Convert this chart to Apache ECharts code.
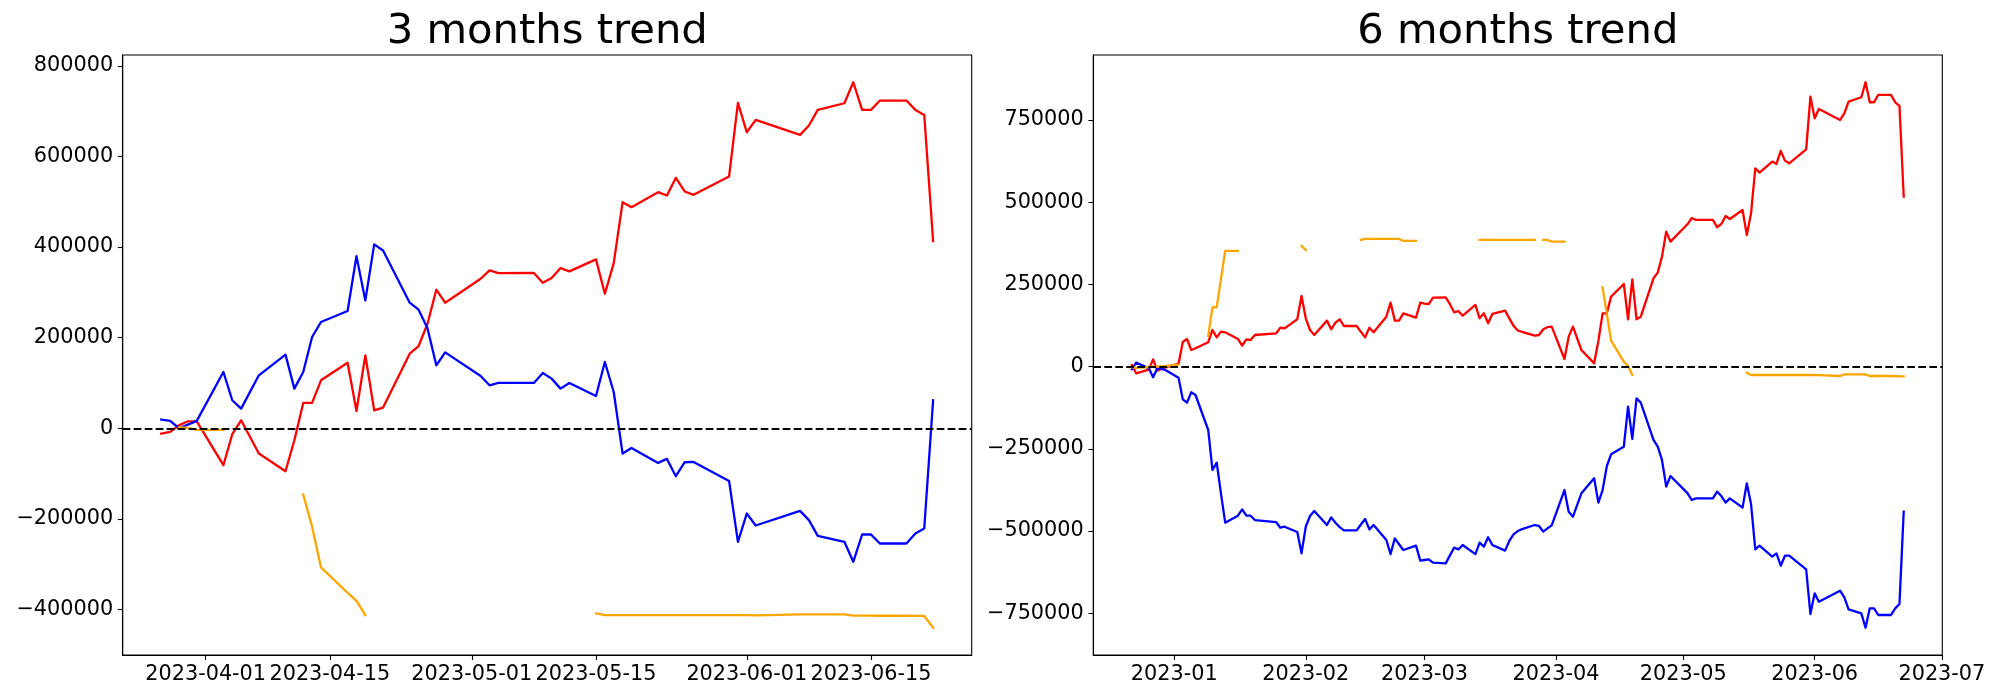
<!DOCTYPE html>
<html>
<head>
<meta charset="utf-8">
<script src="https://cdn.jsdelivr.net/npm/echarts@6/dist/echarts.min.js"></script>
<style>
html,body{margin:0;padding:0;background:#fff;}
#chart{width:2000px;height:700px;}
</style>
</head>
<body>
<div id="chart"></div>
<script>
const titles = ['3 months trend', '6 months trend'];

// ---------- 3 months panel ----------
const datesL = ['2023-03-27','2023-03-28','2023-03-29','2023-03-30','2023-03-31','2023-04-03','2023-04-04','2023-04-05','2023-04-07','2023-04-10','2023-04-11','2023-04-12','2023-04-13','2023-04-14','2023-04-17','2023-04-18','2023-04-19','2023-04-20','2023-04-21','2023-04-24','2023-04-25','2023-04-26','2023-04-27','2023-04-28','2023-05-02','2023-05-03','2023-05-04','2023-05-08','2023-05-09','2023-05-10','2023-05-11','2023-05-12','2023-05-15','2023-05-16','2023-05-17','2023-05-18','2023-05-19','2023-05-22','2023-05-23','2023-05-24','2023-05-25','2023-05-26','2023-05-30','2023-05-31','2023-06-01','2023-06-02','2023-06-07','2023-06-08','2023-06-09','2023-06-12','2023-06-13','2023-06-14','2023-06-15','2023-06-16','2023-06-19','2023-06-20','2023-06-21','2023-06-22'];
const redL = [-11800,-8100,6600,15400,15400,-81600,-13200,17600,-55900,-94800,-26500,55900,55900,105900,144800,38200,161000,39700,45600,164700,181600,230300,305900,277200,330100,348500,342600,343000,321300,331600,353700,346300,372800,297000,364700,499200,488200,521300,514000,552900,522800,515400,555900,718300,653600,680900,647800,668400,702900,717600,763900,702900,702900,723500,723500,702900,691900,413200];
const blueL = [19100,16200,0,8000,16200,124300,61800,43400,116900,162500,87500,124300,201500,234600,258800,380100,282300,405900,392600,277200,261800,221300,139000,167600,115400,94900,100000,100000,122100,109600,87500,100000,71300,146300,80100,-55900,-43400,-76500,-67700,-105900,-75000,-74300,-116200,-250700,-188200,-214700,-182400,-202900,-237500,-250700,-294800,-234600,-234600,-254400,-254400,-232300,-221300,61800];
const orangeL = [null,null,2000,1000,-3500,-3500,null,null,null,null,null,-146300,-217600,-307300,-363200,-380900,-412500,null,null,null,null,null,null,null,null,null,null,null,null,null,null,null,-408800,-412500,-412500,-412500,-412500,-412500,-412500,-412500,-412500,-412500,-412500,-412500,-412500,-413200,-411000,-411000,-411000,-411000,-413700,-413700,-413700,-414000,-414000,-414400,-414400,-440400];
const xTicksL = ['2023-04-01','2023-04-15','2023-05-01','2023-05-15','2023-06-01','2023-06-15'];
const yTicksL = [-400000,-200000,0,200000,400000,600000,800000];

// ---------- 6 months panel ----------
const datesR = ['2022-12-22','2022-12-23','2022-12-26','2022-12-27','2022-12-28','2022-12-29','2022-12-30','2023-01-02','2023-01-03','2023-01-04','2023-01-05','2023-01-06','2023-01-09','2023-01-10','2023-01-11','2023-01-12','2023-01-13','2023-01-16','2023-01-17','2023-01-18','2023-01-19','2023-01-20','2023-01-25','2023-01-26','2023-01-27','2023-01-30','2023-01-31','2023-02-01','2023-02-02','2023-02-03','2023-02-06','2023-02-07','2023-02-08','2023-02-09','2023-02-10','2023-02-13','2023-02-14','2023-02-15','2023-02-16','2023-02-17','2023-02-20','2023-02-21','2023-02-22','2023-02-23','2023-02-24','2023-02-27','2023-02-28','2023-03-01','2023-03-02','2023-03-03','2023-03-06','2023-03-07','2023-03-08','2023-03-09','2023-03-10','2023-03-13','2023-03-14','2023-03-15','2023-03-16','2023-03-17','2023-03-20','2023-03-21','2023-03-22','2023-03-23','2023-03-24','2023-03-27','2023-03-28','2023-03-29','2023-03-30','2023-03-31','2023-04-03','2023-04-04','2023-04-05','2023-04-07','2023-04-10','2023-04-11','2023-04-12','2023-04-13','2023-04-14','2023-04-17','2023-04-18','2023-04-19','2023-04-20','2023-04-21','2023-04-24','2023-04-25','2023-04-26','2023-04-27','2023-04-28','2023-05-02','2023-05-03','2023-05-04','2023-05-08','2023-05-09','2023-05-10','2023-05-11','2023-05-12','2023-05-15','2023-05-16','2023-05-17','2023-05-18','2023-05-19','2023-05-22','2023-05-23','2023-05-24','2023-05-25','2023-05-26','2023-05-30','2023-05-31','2023-06-01','2023-06-02','2023-06-07','2023-06-08','2023-06-09','2023-06-12','2023-06-13','2023-06-14','2023-06-15','2023-06-16','2023-06-19','2023-06-20','2023-06-21','2023-06-22'];
const redR = [5000,-20300,-9000,22300,-12000,-7000,-2000,9000,75000,84000,50700,56000,74000,111500,89200,106500,104400,84200,63900,83100,81100,96300,101000,118600,116600,144000,215000,147000,111500,96300,140000,113600,133800,144000,123700,123700,106000,89200,118600,104400,152000,194700,140000,140000,162200,149000,194700,192000,190000,210000,211000,190000,165300,169300,155000,187600,147000,162200,131800,160200,170400,147000,124000,110000,106000,94300,96300,113600,120000,121700,23300,91200,121700,50700,10100,78000,162200,162200,212900,251400,144000,265600,144000,152000,268700,286000,334700,410700,380300,433000,452000,446200,446200,423900,434000,458300,449200,476600,400500,466400,603300,590100,623600,616500,656000,626600,618500,661100,821300,755400,783800,750300,770600,806100,819300,864900,804100,804100,826400,826400,804100,793000,517200];
const blueR = [-8000,12300,-5000,-32300,-5000,-7000,-11000,-33400,-99300,-109500,-78000,-86200,-192600,-314300,-292000,-385300,-474500,-453300,-434000,-453300,-453300,-466500,-472600,-489800,-486800,-503000,-567800,-486800,-454200,-439000,-481700,-458300,-474500,-488000,-497900,-497900,-480000,-463300,-494700,-481700,-527200,-570000,-522100,-540000,-557600,-544400,-590000,-588000,-586000,-596100,-598200,-574000,-550500,-555600,-542400,-570000,-535300,-547500,-519000,-542400,-559600,-530200,-510000,-500000,-494000,-481600,-484600,-501900,-492000,-482600,-375200,-441100,-456300,-385300,-339600,-413600,-375200,-302100,-266600,-243300,-121600,-219900,-96200,-109400,-223000,-243300,-283800,-364900,-332500,-384500,-405500,-400500,-400500,-380200,-393400,-413600,-400500,-428800,-354800,-417700,-555600,-544400,-577900,-567800,-605300,-574900,-574900,-616500,-752300,-689500,-714800,-681300,-701600,-738100,-750300,-794000,-735000,-735000,-755300,-755300,-735000,-721800,-441000];
const orangeR = [-2000,-4000,-1000,0,0,1000,2000,6000,null,null,null,null,93300,180500,180500,266000,351900,351900,null,null,null,null,null,null,null,null,367100,354900,null,null,null,null,null,null,null,null,385300,388400,388400,388400,388400,388400,388400,388400,382300,382300,null,null,null,null,null,null,null,null,null,null,385300,385300,385300,385300,385300,385300,385300,385300,385300,385300,null,385300,385300,380200,380200,null,null,null,null,null,241300,160000,79100,15200,2000,-25400,null,null,null,null,null,null,null,null,null,null,null,null,null,null,null,null,-18300,-25400,-25400,-25400,-25400,-25400,-25400,-25400,-25400,-25400,-25400,-25400,-26000,-28400,-23300,-23300,-23300,-23300,-28400,-28400,-28400,-28400,-28900,-29400,-29400,-53700];
const xTicksR = ['2023-01-01','2023-02-01','2023-03-01','2023-04-01','2023-05-01','2023-06-01','2023-07-01'];
const yTicksR = [-750000,-500000,-250000,0,250000,500000,750000];

// ---------- helpers ----------
const ts = s => Date.parse(s + 'T00:00:00Z');
const pairs = (dates, vals) => dates.map((d, i) => [ts(d), vals[i] == null ? '-' : vals[i]]);
const withMargin = (lo, hi) => { const p = (hi - lo) * 0.05; return [lo - p, hi + p]; };
const yLimits = (...arrs) => {
  const all = [].concat(...arrs).filter(v => v != null);
  return withMargin(Math.min(...all), Math.max(...all));
};
const pad2 = n => (n < 10 ? '0' : '') + n;
const fmtDay = v => { const d = new Date(v); return d.getUTCFullYear() + '-' + pad2(d.getUTCMonth() + 1) + '-' + pad2(d.getUTCDate()); };
const fmtMonth = v => { const d = new Date(v); return d.getUTCFullYear() + '-' + pad2(d.getUTCMonth() + 1); };
const fmtNum = v => (v < 0 ? '\u2212' + Math.abs(v) : String(v));

const FONT = 'DejaVu Sans';
const panels = [
  {dates: datesL, red: redL, blue: blueL, orange: orangeL, xTicks: xTicksL, yTicks: yTicksL, fmt: fmtDay, left: 122.7},
  {dates: datesR, red: redR, blue: blueR, orange: orangeR, xTicks: xTicksR, yTicks: yTicksR, fmt: fmtMonth, left: 1093.3}
];
const GW = 849, GH = 600, GT = 55;

const option = {
  animation: false,
  backgroundColor: '#fff',
  title: [], grid: [], xAxis: [], yAxis: [], series: []
};

panels.forEach((p, i) => {
  const xr = withMargin(ts(p.dates[0]), ts(p.dates[p.dates.length - 1]));
  const yr = yLimits(p.red, p.blue, p.orange, [0]);
  option.title.push({
    text: titles[i], left: p.left + GW / 2, top: 11, textAlign: 'center', padding: 0,
    textStyle: {fontFamily: FONT, fontSize: 41.7, fontWeight: 'normal', color: '#000'}
  });
  option.grid.push({
    left: p.left, top: GT, width: GW, height: GH, containLabel: false, outerBoundsMode: 'none',
    show: true, borderColor: '#000', borderWidth: 1.1, backgroundColor: 'transparent'
  });
  const tickVals = p.xTicks.map(ts);
  option.xAxis.push({
    type: 'value', gridIndex: i, min: xr[0], max: xr[1],
    splitLine: {show: false},
    axisLine: {show: true, onZero: false, lineStyle: {color: '#000', width: 1.1}},
    axisTick: {show: true, length: 4.9, inside: false, customValues: tickVals, lineStyle: {color: '#000', width: 1.1}},
    axisLabel: {show: true, customValues: tickVals, formatter: p.fmt, margin: 9.5,
      fontFamily: FONT, fontSize: 20.8, color: '#000', hideOverlap: false}
  });
  option.yAxis.push({
    type: 'value', gridIndex: i, min: yr[0], max: yr[1],
    splitLine: {show: false},
    axisLine: {show: true, onZero: false, lineStyle: {color: '#000', width: 1.1}},
    axisTick: {show: true, length: 4.9, inside: false, customValues: p.yTicks, lineStyle: {color: '#000', width: 1.1}},
    axisLabel: {show: true, customValues: p.yTicks, formatter: fmtNum, margin: 9.5,
      fontFamily: FONT, fontSize: 20.8, color: '#000', hideOverlap: false}
  });
  const mk = (name, color, vals, z, extra) => Object.assign({
    name: name, type: 'line', xAxisIndex: i, yAxisIndex: i, z: z,
    data: pairs(p.dates, vals), showSymbol: false, symbol: 'none', connectNulls: false,
    clip: true, silent: true,
    lineStyle: {color: color, width: 2.3, join: 'round', cap: 'square'},
    itemStyle: {color: color},
    emphasis: {disabled: true}
  }, extra || {});
  option.series.push(mk('red', '#ff0000', p.red, 2));
  option.series.push(mk('blue', '#0000ff', p.blue, 3));
  option.series.push(mk('orange', '#ffa500', p.orange, 4, {
    markLine: {
      silent: true, symbol: ['none', 'none'], label: {show: false},
      lineStyle: {color: '#000', width: 2.1, type: [7.7, 3.3]},
      emphasis: {disabled: true},
      data: [{yAxis: 0}]
    }
  }));
});

const chart = echarts.init(document.getElementById('chart'), null, {renderer: 'canvas'});
chart.setOption(option);
</script>
</body>
</html>
